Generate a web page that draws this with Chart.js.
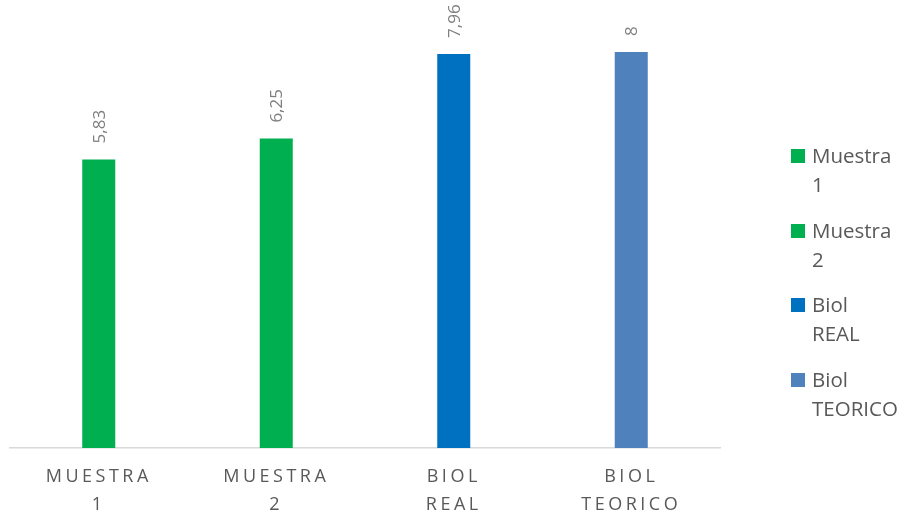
<!DOCTYPE html>
<html>
<head>
<meta charset="utf-8">
<script src="https://cdn.jsdelivr.net/npm/chart.js@4/dist/chart.umd.min.js"></script>
<style>
  html, body { margin: 0; padding: 0; background: #ffffff; }
  #wrap { position: relative; width: 898px; height: 511px; }
  #c { position: absolute; left: 0; top: 0; }
  #legend { position: absolute; left: 791px; top: 141px; font-family: "Open Sans", sans-serif; font-size: 20.5px; color: #595959; }
  .item { position: relative; padding-left: 21px; line-height: 29px; margin-bottom: 16.5px; }
  .box { position: absolute; left: 0; top: 8px; width: 14px; height: 14px; }
</style>
</head>
<body>
<div id="wrap">
  <canvas id="c" width="898" height="511"></canvas>
  <div id="legend"></div>
</div>
<script>
const categories = [["MUESTRA", "1"], ["MUESTRA", "2"], ["BIOL", "REAL"], ["BIOL", "TEORICO"]];
const legendNames = [["Muestra", "1"], ["Muestra", "2"], ["Biol", "REAL"], ["Biol", "TEORICO"]];
const values = [5.83, 6.25, 7.96, 8];
const valueLabels = ["5,83", "6,25", "7,96", "8"];
const barColors = ["#00B050", "#00B050", "#0070C0", "#4F81BD"];

const FONT = '"Open Sans", sans-serif';

const spacingPlugin = {
  id: 'spacing',
  beforeDraw(chart) { chart.ctx.letterSpacing = '3.5px'; },
  beforeDatasetsDraw(chart) { chart.ctx.letterSpacing = '0px'; }
};

const valueLabelPlugin = {
  id: 'valueLabels',
  afterDatasetsDraw(chart) {
    const ctx = chart.ctx;
    const meta = chart.getDatasetMeta(0);
    ctx.save();
    ctx.letterSpacing = '0px';
    ctx.font = '17px ' + FONT;
    ctx.fillStyle = '#7f7f7f';
    ctx.textAlign = 'left';
    ctx.textBaseline = 'middle';
    meta.data.forEach((bar, i) => {
      ctx.save();
      ctx.translate(bar.x + 1, bar.y - 16);
      ctx.rotate(-Math.PI / 2);
      ctx.fillText(valueLabels[i], 0, 0);
      ctx.restore();
    });
    ctx.restore();
  }
};

new Chart(document.getElementById('c'), {
  type: 'bar',
  data: {
    labels: categories,
    datasets: [{
      data: values,
      backgroundColor: barColors,
      borderWidth: 0,
      barPercentage: 0.186,
      categoryPercentage: 1
    }]
  },
  options: {
    responsive: false,
    animation: false,
    layout: { padding: { left: 10, right: 178, top: 0, bottom: 0 } },
    plugins: { legend: { display: false }, tooltip: { enabled: false } },
    scales: {
      x: {
        grid: { display: false, drawTicks: false },
        border: { display: true, color: '#d9d9d9', width: 1.5 },
        afterFit(scale) { scale.height = 63; },
        ticks: {
          color: '#595959',
          font: { family: FONT, size: 18, lineHeight: 1.55 },
          padding: 15,
          maxRotation: 0,
          autoSkip: false
        }
      },
      y: {
        display: false,
        min: 0,
        max: 9.05
      }
    }
  },
  plugins: [spacingPlugin, valueLabelPlugin]
});

const legendEl = document.getElementById('legend');
legendNames.forEach((name, i) => {
  const item = document.createElement('div');
  item.className = 'item';
  const box = document.createElement('span');
  box.className = 'box';
  box.style.background = barColors[i];
  item.appendChild(box);
  name.forEach(line => {
    const d = document.createElement('div');
    d.textContent = line;
    item.appendChild(d);
  });
  legendEl.appendChild(item);
});
</script>
</body>
</html>
